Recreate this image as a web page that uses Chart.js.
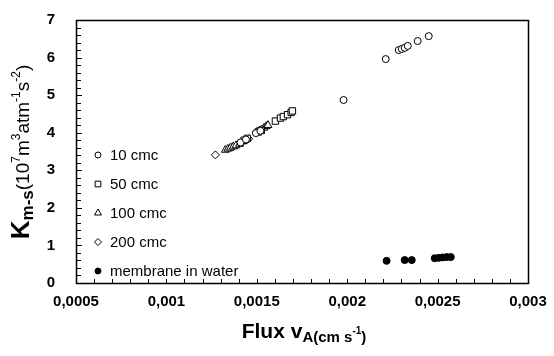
<!DOCTYPE html>
<html lang="en">
  <head>
    <meta charset="UTF-8">
    <title>Km-s vs flux</title>
    <script src="https://cdn.jsdelivr.net/npm/chart.js@4.4.6/dist/chart.umd.min.js"></script>
    <style>
      html, body { margin: 0; padding: 0; background: #fff; }
      #wrap { width: 554px; height: 356px; }
    </style>
  </head>
  <body>
    <div id="wrap"><canvas id="plot" width="554" height="356"></canvas></div>
    <script>
      const FONT = '"Liberation Sans", Arial, sans-serif';

      // flux (cm/s) and Km-s (10^7 m3 atm-1 s-2) per run
      const flux10 = [0.001410, 0.001440, 0.001495, 0.001520, 0.001980, 0.002213, 0.002285, 0.002302, 0.002318, 0.002335, 0.002390, 0.002451];
      const k10 = [3.74, 3.82, 3.99, 4.05, 4.87, 5.96, 6.20, 6.23, 6.26, 6.31, 6.44, 6.57];
      const flux50 = [0.001430, 0.001448, 0.001508, 0.001525, 0.001603, 0.001631, 0.001647, 0.001670, 0.001690, 0.001697];
      const k50 = [3.80, 3.85, 4.02, 4.06, 4.31, 4.39, 4.43, 4.48, 4.54, 4.58];
      const flux100 = [0.001326, 0.001340, 0.001354, 0.001370, 0.001385, 0.001405, 0.001540, 0.001552, 0.001562];
      const k100 = [3.54, 3.57, 3.60, 3.63, 3.66, 3.70, 4.13, 4.17, 4.20];
      const flux200 = [0.001271, 0.001365, 0.001392, 0.001418, 0.001440, 0.001455, 0.001500, 0.001515, 0.001530];
      const k200 = [3.41, 3.62, 3.68, 3.74, 3.80, 3.84, 4.03, 4.07, 4.10];
      const fluxWater = [0.002218, 0.002318, 0.002357, 0.002484, 0.002507, 0.002529, 0.002551, 0.002573];
      const kWater = [0.59, 0.61, 0.61, 0.66, 0.67, 0.68, 0.69, 0.69];

      const seriesNames = ["10 cmc", "50 cmc", "100 cmc", "200 cmc", "membrane in water"];
      const xRange = [0.0005, 0.003];
      const yRange = [0, 7];

      const pts = (xs, ys) => xs.map((x, i) => ({ x: x, y: ys[i] }));

      const markers = [
        { style: "circle", radius: 3.5, fill: "#fff" },
        { style: "rect", radius: 4.5, fill: "#fff" },
        { style: "triangle", radius: 4.5, fill: "#fff" },
        { style: "rectRot", radius: 4, fill: "#fff" },
        { style: "circle", radius: 3.5, fill: "#000" }
      ];
      const allData = [pts(flux10, k10), pts(flux50, k50), pts(flux100, k100), pts(flux200, k200), pts(fluxWater, kWater)];

      const datasets = allData.map((d, i) => ({
        label: seriesNames[i],
        data: d,
        pointStyle: markers[i].style,
        pointRadius: markers[i].radius,
        pointBackgroundColor: markers[i].fill,
        pointBorderColor: "#000",
        pointBorderWidth: 1,
        showLine: false
      }));

      // frame, inward ticks, legend and both axis titles
      const decorations = {
        id: "decorations",
        afterDraw(chart) {
          const ctx = chart.ctx;
          const a = chart.chartArea;
          const xs = chart.scales.x, ys = chart.scales.y;
          ctx.save();
          ctx.setLineDash([]);
          ctx.strokeStyle = "#000";
          ctx.lineWidth = 1.5;
          ctx.beginPath();
          ctx.rect(Math.round(a.left) + 0.5, Math.round(a.top) + 0.5, Math.round(a.right - a.left), Math.round(a.bottom - a.top));
          ctx.stroke();

          ctx.lineWidth = 1;
          ctx.beginPath();
          for (let i = 0; i <= 25; i++) {
            const px = Math.round(xs.getPixelForValue(xRange[0] + i * 0.0001)) + 0.5;
            ctx.moveTo(px, a.bottom);
            ctx.lineTo(px, a.bottom - 4);
          }
          for (let i = 0; i <= 35; i++) {
            const py = Math.round(ys.getPixelForValue(i * 0.2)) + 0.5;
            const len = i % 5 === 0 ? 6 : 5;
            ctx.moveTo(a.left, py);
            ctx.lineTo(a.left + len, py);
          }
          ctx.stroke();

          // legend inside the plot
          const legendX = 98, legendY0 = 155, rowH = 29;
          seriesNames.forEach((name, i) => {
            const y = legendY0 + i * rowH;
            ctx.fillStyle = markers[i].fill;
            ctx.strokeStyle = "#000";
            ctx.lineWidth = 1;
            Chart.helpers.drawPoint(ctx, {
              pointStyle: markers[i].style,
              radius: markers[i].radius - 0.5,
              borderWidth: 1
            }, legendX, y);
            ctx.font = "15px " + FONT;
            ctx.fillStyle = "#000";
            ctx.textBaseline = "middle";
            ctx.textAlign = "left";
            ctx.fillText(name, legendX + 12, y + 1);
          });

          const drawRun = (segs, x0, y0) => {
            let w = 0;
            segs.forEach(s => { ctx.font = s[1] + " " + FONT; w += ctx.measureText(s[0]).width; });
            let x = x0 - w / 2;
            segs.forEach(s => {
              ctx.font = s[1] + " " + FONT;
              ctx.fillText(s[0], x, y0 + s[2]);
              x += ctx.measureText(s[0]).width;
            });
          };
          ctx.fillStyle = "#000";
          ctx.textBaseline = "alphabetic";
          ctx.textAlign = "left";

          drawRun([
            ["Flux v", "bold 21px", 0],
            ["A(cm s", "bold 15px", 4],
            ["-1", "bold 10px", -4],
            [")", "bold 15px", 4]
          ], 304, 338);

          // y title, rotated
          ctx.translate(29, 152);
          ctx.rotate(-Math.PI / 2);
          drawRun([
            ["K", "bold 26px", 0],
            ["m-s", "bold 17px", 4],
            ["(10", "19px", 0],
            ["7", "12px", -9],
            ["m", "19px", 0],
            ["3", "12px", -9],
            ["atm", "19px", 0],
            ["-1", "12px", -9],
            ["s", "19px", 0],
            ["-2", "12px", -9],
            [")", "19px", 0]
          ], 0, 0);
          ctx.restore();
        }
      };

      new Chart(document.getElementById("plot"), {
        type: "scatter",
        data: { datasets: datasets },
        plugins: [decorations],
        options: {
          responsive: false,
          animation: false,
          layout: { padding: { top: 20, right: 26, left: 0, bottom: 0 } },
          plugins: { legend: { display: false }, tooltip: { enabled: false } },
          scales: {
            x: {
              type: "linear",
              min: xRange[0],
              max: xRange[1],
              grid: { display: false, drawTicks: true, tickLength: 8 },
              border: { display: false },
              afterFit: (s) => { s.height = 73; },
              ticks: {
                stepSize: 0.0005,
                padding: 2,
                color: "#000",
                font: { family: FONT, size: 15, weight: "bold" },
                maxRotation: 0,
                callback: (v) => Number(v.toFixed(4)).toString().replace(".", ",")
              }
            },
            y: {
              type: "linear",
              min: yRange[0],
              max: yRange[1],
              grid: { display: false, drawTicks: true, tickLength: 19 },
              border: { display: false },
              afterFit: (s) => { s.width = 76; },
              ticks: {
                stepSize: 1,
                padding: 2,
                color: "#000",
                font: { family: FONT, size: 15, weight: "bold" }
              }
            }
          }
        }
      });
    </script>
  </body>
</html>
